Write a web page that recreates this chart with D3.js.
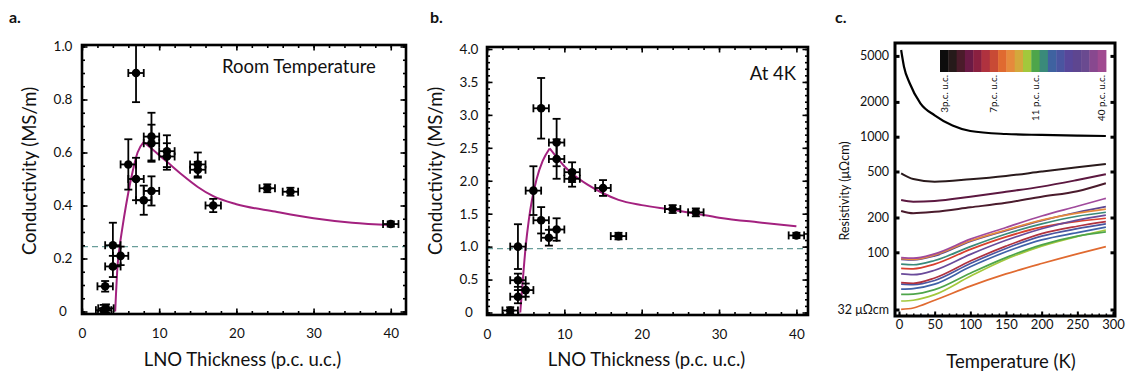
<!DOCTYPE html>
<html><head><meta charset="utf-8">
<script src="https://cdn.jsdelivr.net/npm/d3@7"></script>
<style>
body{margin:0;background:#fff}
svg{display:block}
text{font-family:Lato,"Open Sans",sans-serif;fill:#111}
</style>
</head><body>
<svg id="chart" width="1126" height="376"></svg>
<script>
// ---------- Panel a: room temperature conductivity ----------
const thickA = [7, 9, 9, 6, 7, 8, 9, 11, 11, 15, 15, 17, 24, 27, 40, 4, 4, 5, 3, 2.8, 3.1];
const condA  = [0.90, 0.66, 0.635, 0.555, 0.50, 0.42, 0.455, 0.605, 0.585, 0.555, 0.535, 0.40, 0.465, 0.452, 0.33, 0.25, 0.17, 0.21, 0.095, 0.005, 0.012];
const yErrA  = [0.11, 0.09, 0.07, 0.095, 0.08, 0.055, 0.055, 0.06, 0.05, 0.045, 0.03, 0.025, 0.015, 0.015, 0.01, 0.085, 0.04, 0.035, 0.02, 0.02, 0.015];
const xErrA  = [1, 1, 1, 1, 1, 1, 1, 1, 1, 1, 1, 1, 1, 1, 1, 1, 1, 1, 1, 1, 1];
const fitRiseA_x = [4.3, 4.6, 4.9, 5.2, 5.7, 6.35, 7.2, 8.0];
const fitRiseA_y = [0, 0.17, 0.25, 0.31, 0.40, 0.50, 0.60, 0.64];
const fitDecayA_x = [8.0, 9, 10, 11, 13, 15, 17, 20, 25, 30, 35, 40];
const fitDecayA_y = [0.64, 0.615, 0.59, 0.565, 0.515, 0.47, 0.435, 0.405, 0.377, 0.352, 0.335, 0.326];
const dashA = 0.245;

// ---------- Panel b: 4 K conductivity ----------
const thickB = [7, 9, 9, 11, 11, 15, 6, 7, 8, 9, 17, 24, 27, 40, 4, 4, 5, 4, 3];
const condB  = [3.10, 2.58, 2.33, 2.13, 2.03, 1.89, 1.85, 1.40, 1.135, 1.26, 1.16, 1.57, 1.52, 1.17, 1.0, 0.49, 0.34, 0.24, 0.03];
const yErrB  = [0.46, 0.36, 0.30, 0.15, 0.12, 0.12, 0.37, 0.20, 0.12, 0.17, 0.05, 0.06, 0.06, 0.04, 0.34, 0.10, 0.10, 0.10, 0.05];
const xErrB  = [1, 1, 1, 1, 1, 1, 1, 1, 1, 1, 1, 1, 1, 1, 1, 1, 1, 1, 1];
const fitRiseB_x = [4.3, 4.6, 5.0, 5.4, 5.8, 6.4, 7.2, 8.1];
const fitRiseB_y = [0, 0.45, 1.0, 1.4, 1.7, 2.02, 2.3, 2.49];
const fitDecayB_x = [8.1, 9, 10, 11, 13, 15, 17, 20, 24, 27, 30, 35, 40];
const fitDecayB_y = [2.49, 2.36, 2.22, 2.11, 1.94, 1.81, 1.71, 1.63, 1.56, 1.50, 1.44, 1.37, 1.31];
const dashB = 0.97;

// ---------- Panel c: resistivity vs temperature ----------
const tempsBlack = [3, 7, 15, 30, 50, 75, 100, 150, 200, 250, 290];
const rhoBlack   = [5620, 4030, 2900, 1945, 1530, 1250, 1120, 1055, 1035, 1020, 1014];
const tempsC = [3, 20, 50, 100, 150, 200, 250, 290];
const rhoSeries = [
  {color: "#2a1a1c", w: 2,   v: [482, 430, 408, 428, 457, 499, 544, 581]},
  {color: "#5c1840", w: 2,   v: [283, 274, 278, 303, 334, 370, 422, 473]},
  {color: "#4a1b2c", w: 2,   v: [228, 218, 224, 245, 268, 303, 338, 396]},
  {color: "#a04a9c", w: 1.7, v: [90, 89, 97, 130, 164, 206, 250, 293]},
  {color: "#e68a3c", w: 1.7, v: [88, 87, 95, 126, 156, 190, 218, 236]},
  {color: "#5e4690", w: 1.7, v: [87, 86, 93, 124, 154, 188, 222, 248]},
  {color: "#3a8a7a", w: 1.7, v: [79, 78, 85, 112, 144, 176, 205, 222]},
  {color: "#6a4a9a", w: 1.7, v: [65, 64, 70, 96, 127, 160, 190, 210]},
  {color: "#d8402e", w: 1.7, v: [72.7, 72, 79, 106, 136, 165, 185, 197]},
  {color: "#b0323f", w: 1.7, v: [54.6, 54, 60, 84, 113, 145, 168, 184]},
  {color: "#4a55a0", w: 1.7, v: [53, 52.5, 57, 80, 108, 138, 160, 176]},
  {color: "#3f62a8", w: 1.7, v: [48, 48.5, 53, 75, 101, 128, 148, 165]},
  {color: "#4ea54a", w: 1.7, v: [43.3, 43.5, 47.5, 66, 90, 116, 138, 150]},
  {color: "#a3c83c", w: 1.7, v: [37.9, 38.5, 43, 62, 87, 113, 137, 156]},
  {color: "#e06a30", w: 1.7, v: [32.1, 33, 38.5, 51, 65, 80, 97, 112]}
];
const colorbarColors = ["#0d0d0d","#261a1a","#4a1b2a","#6a1a45","#8a2040","#b0323f","#c84a35","#e06a30",
  "#e68a3c","#d4a83c","#a3c83c","#4ea54a","#3a8a7a","#3f62a0","#4a55a0","#58479a","#5e4690","#6a4a90","#88488f","#a04a90"];
const colorbarLabels = [{i: 0, t: "3p.c. u.c."}, {i: 6, t: "7p.c. u.c."}, {i: 11, t: "11 p.c. u.c."}, {i: 19, t: "40 p.c. u.c."}];
const rhoTicks = [32, 100, 200, 500, 1000, 2000, 5000];

// ---------- drawing ----------
const svg = d3.select("#chart");
svg.append("rect").attr("width", 1126).attr("height", 376).attr("fill", "#fff");

const FIT = "#a3217f";
const DASH = "#6a9e9a";

function innerAxes(g, p, xs, ys, xMinor, xMajor, yMinor, yMajor, sw) {
  const mk = (axis, tr, vals, size) => {
    const a = g.append("g").attr("transform", tr)
      .call(axis.tickValues(vals).tickSizeInner(-size).tickSizeOuter(0).tickFormat(""));
    a.select(".domain").remove();
    a.selectAll("line").attr("stroke", "#000").attr("stroke-width", sw);
  };
  mk(d3.axisBottom(xs), `translate(0,${p.b})`, xMinor, 3);
  mk(d3.axisBottom(xs), `translate(0,${p.b})`, xMajor, 5.5);
  mk(d3.axisTop(xs), `translate(0,${p.t})`, xMinor, 3);
  mk(d3.axisTop(xs), `translate(0,${p.t})`, xMajor, 5.5);
  mk(d3.axisLeft(ys), `translate(${p.l},0)`, yMinor, 3);
  mk(d3.axisLeft(ys), `translate(${p.l},0)`, yMajor, 5.5);
  mk(d3.axisRight(ys), `translate(${p.r},0)`, yMinor, 3);
  mk(d3.axisRight(ys), `translate(${p.r},0)`, yMajor, 5.5);
}

function conductivityPanel(opt) {
  const {p, xs, ys, thick, cond, xErr, yErr, riseX, riseY, decX, decY, dashY, yMajor, yMinor, yFmt, id} = opt;
  const g = svg.append("g");
  g.append("clipPath").attr("id", id).append("rect")
    .attr("x", p.l).attr("y", p.t).attr("width", p.r - p.l).attr("height", p.b - p.t);
  const inner = g.append("g").attr("clip-path", `url(#${id})`);

  inner.append("line").attr("x1", p.l).attr("x2", p.r)
    .attr("y1", ys(dashY)).attr("y2", ys(dashY))
    .attr("stroke", DASH).attr("stroke-width", 1.1).attr("stroke-dasharray", "6,4");

  const line = d3.line().x(d => xs(d[0])).y(d => ys(d[1])).curve(d3.curveMonotoneX);
  inner.append("path").attr("d", line(d3.zip(riseX, riseY)))
    .attr("fill", "none").attr("stroke", FIT).attr("stroke-width", 2);
  inner.append("path").attr("d", line(d3.zip(decX, decY)))
    .attr("fill", "none").attr("stroke", FIT).attr("stroke-width", 2);

  const pts = thick.map((t, i) => ({x: t, y: cond[i], ex: xErr[i], ey: yErr[i]}));
  const cap = 4;
  const eb = inner.append("g").attr("stroke", "#000").attr("stroke-width", 1.8);
  pts.forEach(d => {
    const cx = xs(d.x), cy = ys(d.y);
    const y0 = ys(d.y - d.ey), y1 = ys(d.y + d.ey);
    const x0 = xs(d.x - d.ex), x1 = xs(d.x + d.ex);
    eb.append("line").attr("x1", cx).attr("x2", cx).attr("y1", y0).attr("y2", y1);
    eb.append("line").attr("x1", cx - cap).attr("x2", cx + cap).attr("y1", y0).attr("y2", y0);
    eb.append("line").attr("x1", cx - cap).attr("x2", cx + cap).attr("y1", y1).attr("y2", y1);
    eb.append("line").attr("x1", x0).attr("x2", x1).attr("y1", cy).attr("y2", cy);
    eb.append("line").attr("x1", x0).attr("x2", x0).attr("y1", cy - cap).attr("y2", cy + cap);
    eb.append("line").attr("x1", x1).attr("x2", x1).attr("y1", cy - cap).attr("y2", cy + cap);
  });
  inner.append("g").selectAll("circle").data(pts).join("circle")
    .attr("cx", d => xs(d.x)).attr("cy", d => ys(d.y)).attr("r", 4.3).attr("fill", "#000");

  innerAxes(g, p, xs, ys, d3.range(0, 42, 2), [0, 10, 20, 30, 40], yMinor, yMajor, 1.6);

  g.append("rect").attr("x", p.l).attr("y", p.t).attr("width", p.r - p.l).attr("height", p.b - p.t)
    .attr("fill", "none").attr("stroke", "#000").attr("stroke-width", 2.6);

  const xl = g.append("g").attr("transform", `translate(0,${p.b})`)
    .call(d3.axisBottom(xs).tickValues([0, 10, 20, 30, 40]).tickSize(0).tickPadding(14).tickFormat(d3.format("d")));
  xl.select(".domain").remove();
  xl.selectAll("text").attr("font-size", 13.5).attr("font-family", "Lato, sans-serif").attr("fill", "#111");
  const yl = g.append("g").attr("transform", `translate(${p.l},0)`)
    .call(d3.axisLeft(ys).tickValues(yMajor).tickSize(0).tickFormat(yFmt));
  yl.select(".domain").remove();
  yl.selectAll("text").attr("x", opt.labelCx - p.l).attr("text-anchor", "middle")
    .attr("font-size", 13.5).attr("font-family", "Lato, sans-serif").attr("fill", "#111");
  return g;
}

// Panel a
const pA = {l: 82, r: 406, t: 45, b: 314};
const xA = d3.scaleLinear([0, 42], [82, 406.2]);
const yA = d3.scaleLinear([0, 1], [311.5, 46.5]);
conductivityPanel({p: pA, xs: xA, ys: yA, thick: thickA, cond: condA, xErr: xErrA, yErr: yErrA,
  riseX: fitRiseA_x, riseY: fitRiseA_y, decX: fitDecayA_x, decY: fitDecayA_y, dashY: dashA,
  yMajor: [0, 0.2, 0.4, 0.6, 0.8, 1.0], yMinor: d3.range(0, 1.001, 0.05),
  yFmt: d => d === 0 ? "0" : d3.format(".1f")(d), labelCx: 63, id: "clipA"});

// Panel b
const pB = {l: 487, r: 808, t: 47, b: 315};
const xB = d3.scaleLinear([0, 41.5], [487, 808]);
const yB = d3.scaleLinear([0, 4], [312.5, 49]);
conductivityPanel({p: pB, xs: xB, ys: yB, thick: thickB, cond: condB, xErr: xErrB, yErr: yErrB,
  riseX: fitRiseB_x, riseY: fitRiseB_y, decX: fitDecayB_x, decY: fitDecayB_y, dashY: dashB,
  yMajor: d3.range(0, 4.01, 0.5), yMinor: d3.range(0, 4.01, 0.1),
  yFmt: d => d === 0 ? "0" : d3.format(".1f")(d), labelCx: 469, id: "clipB"});

svg.append("text").attr("x", 222).attr("y", 73).attr("font-size", 18.5).text("Room Temperature");
svg.append("text").attr("x", 796).attr("y", 80).attr("text-anchor", "end").attr("font-size", 18.5).text("At 4K");
svg.append("text").attr("x", 242.5).attr("y", 366).attr("text-anchor", "middle").attr("font-size", 18.5).text("LNO Thickness (p.c. u.c.)");
svg.append("text").attr("x", 646.5).attr("y", 366).attr("text-anchor", "middle").attr("font-size", 18.5).text("LNO Thickness (p.c. u.c.)");
svg.append("text").attr("transform", "translate(36,171) rotate(-90)").attr("text-anchor", "middle").attr("font-size", 18.5).text("Conductivity (MS/m)");
svg.append("text").attr("transform", "translate(442,171) rotate(-90)").attr("text-anchor", "middle").attr("font-size", 18.5).text("Conductivity (MS/m)");

[["a.", 9, 23], ["b.", 430, 23], ["c.", 835, 23]].forEach(([t, x, y]) =>
  svg.append("text").attr("x", x).attr("y", y).attr("font-size", 16).attr("font-weight", "bold")
    .attr("font-family", "'Liberation Sans', Arial, sans-serif").text(t));

// Panel c
const pC = {l: 895, r: 1115, t: 43, b: 316};
const xC = d3.scaleLinear([0, 300], [899, 1113]);
const yC = d3.scaleLog([100, 1000], [252.3, 136.7]);
const gC = svg.append("g");
gC.append("clipPath").attr("id", "clipC").append("rect")
  .attr("x", pC.l).attr("y", pC.t).attr("width", pC.r - pC.l).attr("height", pC.b - pC.t);
const innerC = gC.append("g").attr("clip-path", "url(#clipC)");
const lineC = d3.line().x(d => xC(d[0])).y(d => yC(d[1])).curve(d3.curveMonotoneX);
rhoSeries.slice().reverse().forEach(s => {
  innerC.append("path").attr("d", lineC(d3.zip(tempsC, s.v)))
    .attr("fill", "none").attr("stroke", s.color).attr("stroke-width", s.w);
});
innerC.append("path").attr("d", lineC(d3.zip(tempsBlack, rhoBlack)))
  .attr("fill", "none").attr("stroke", "#000").attr("stroke-width", 2.2);

const cbX = d3.scaleBand(d3.range(colorbarColors.length), [940, 1106]);
gC.append("g").selectAll("rect").data(colorbarColors).join("rect")
  .attr("x", (d, i) => cbX(i)).attr("y", 50).attr("width", cbX.bandwidth() + 0.4).attr("height", 22)
  .attr("fill", d => d);
colorbarLabels.forEach(l => {
  gC.append("text").attr("transform", `translate(${cbX(l.i) + cbX.bandwidth() / 2 + 3.5},75) rotate(-90)`)
    .attr("text-anchor", "end").attr("font-size", 9.8).text(l.t);
});

const mkC = (axis, tr, vals, size, sw) => {
  const a = gC.append("g").attr("transform", tr)
    .call(axis.tickValues(vals).tickSizeInner(-size).tickSizeOuter(0).tickFormat(""));
  a.select(".domain").remove();
  a.selectAll("line").attr("stroke", "#000").attr("stroke-width", sw);
};
mkC(d3.axisBottom(xC), `translate(0,${pC.b})`, d3.range(0, 301, 10), 2.5, 1.5);
mkC(d3.axisBottom(xC), `translate(0,${pC.b})`, d3.range(0, 301, 50), 4.5, 2);
mkC(d3.axisLeft(yC), `translate(${pC.l},0)`, rhoTicks, 4.5, 3);
mkC(d3.axisRight(yC), `translate(${pC.r},0)`, rhoTicks, 4.5, 3);
gC.append("rect").attr("x", pC.l).attr("y", pC.t).attr("width", pC.r - pC.l).attr("height", pC.b - pC.t)
  .attr("fill", "none").attr("stroke", "#000").attr("stroke-width", 3);

const xlC = gC.append("g").attr("transform", `translate(0,${pC.b})`)
  .call(d3.axisBottom(xC).tickValues(d3.range(0, 301, 50)).tickSize(0).tickPadding(4).tickFormat(d3.format("d")));
xlC.select(".domain").remove();
xlC.selectAll("text").attr("font-size", 13).attr("font-family", "Lato, sans-serif").attr("fill", "#111");
const ylC = gC.append("g").attr("transform", `translate(${pC.l},0)`)
  .call(d3.axisLeft(yC).tickValues(rhoTicks).tickSize(0).tickPadding(6)
    .tickFormat(d => d === 32 ? "32 μΩcm" : d3.format("d")(d)));
ylC.select(".domain").remove();
ylC.selectAll("text").attr("font-size", 12.5).attr("font-family", "Lato, sans-serif").attr("fill", "#111");

svg.append("text").attr("x", 1011).attr("y", 368).attr("text-anchor", "middle").attr("font-size", 18.5).text("Temperature (K)");
svg.append("text").attr("transform", "translate(849,191) rotate(-90)").attr("text-anchor", "middle").attr("font-size", 12.5).text("Resistivity (μΩcm)");
</script>
</body></html>
